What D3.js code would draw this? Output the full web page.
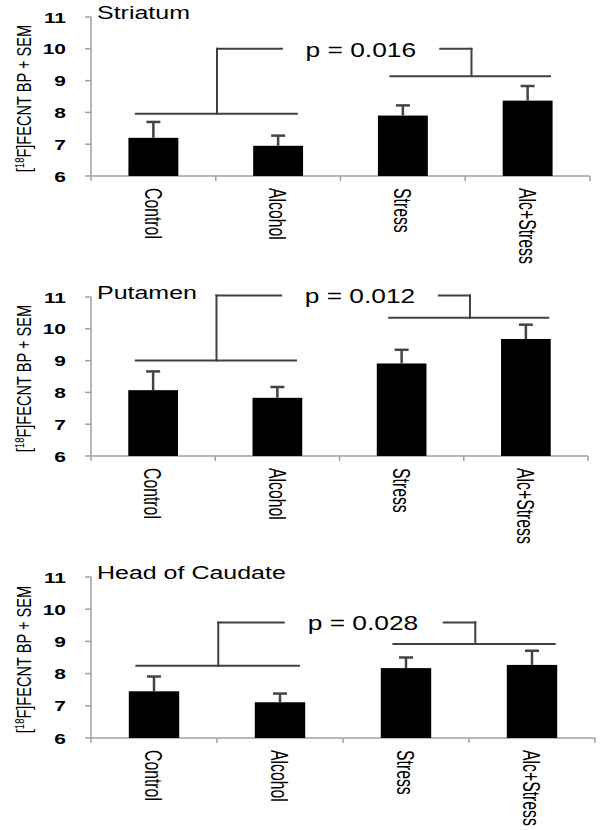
<!DOCTYPE html>
<html>
<head>
<meta charset="utf-8">
<script src="https://cdn.jsdelivr.net/npm/d3@7"></script>
<style>
  body { margin: 0; background: #fff; }
  text { font-family: "Liberation Sans", Arial, sans-serif; fill: #000; }
</style>
</head>
<body>
<div id="chart"></div>
<script>
// Three stacked bar panels

var categories = ["Control", "Alcohol", "Stress", "Alc+Stress"];
var regions = ["Striatum", "Putamen", "Head of Caudate"];
var yTicks = [6, 7, 8, 9, 10, 11];

var meanStriatum = [7.20, 6.95, 7.90, 8.37];
var semStriatum = [0.50, 0.32, 0.32, 0.46];
var meanPutamen = [8.07, 7.83, 8.91, 9.68];
var semPutamen = [0.59, 0.34, 0.43, 0.45];
var meanCaudate = [7.45, 7.11, 8.17, 8.27];
var semCaudate = [0.46, 0.27, 0.33, 0.44];

var pLabels = ["p = 0.016", "p = 0.012", "p = 0.028"];
// bracket heights: [left group, right group, top]
var bracketStriatum = [7.96, 9.14, 10.0];
var bracketPutamen = [9.0, 10.35, 11.05];
var bracketCaudate = [8.24, 8.92, 9.59];

var means = [meanStriatum, meanPutamen, meanCaudate];
var sems = [semStriatum, semPutamen, semCaudate];
var brackets = [bracketStriatum, bracketPutamen, bracketCaudate];

var width = 602, height = 830;
var stretch = 1.35;   // the figure is widened horizontally

var svg = d3.select("#chart").append("svg")
  .attr("width", width)
  .attr("height", height);

// panel frame
var panelTop = [17, 297, 577],
  panelBottom = [176, 456, 738],
  panelRight = [590, 588, 595],
  axisLeft = 91;

regions.forEach(function (region, i) {
  var g = svg.append("g");

  var x = d3.scaleBand()
    .domain(categories)
    .range([axisLeft, panelRight[i]])
    .paddingInner(0.6)
    .paddingOuter(0.3);
  var y = d3.scaleLinear()
    .domain([6, 11])
    .range([panelBottom[i], panelTop[i]]);

  var step = x.step();
  var cx = function (c) { return x(c) + x.bandwidth() / 2; };

  // y axis
  g.append("line")
    .attr("x1", axisLeft).attr("x2", axisLeft)
    .attr("y1", y(11)).attr("y2", y(6))
    .attr("stroke", "#a0a0a0").attr("stroke-width", 1.5);
  g.selectAll(".ytick").data(yTicks).enter().append("line")
    .attr("x1", axisLeft - 6).attr("x2", axisLeft)
    .attr("y1", function (d) { return y(d); })
    .attr("y2", function (d) { return y(d); })
    .attr("stroke", "#a0a0a0").attr("stroke-width", 1.5);
  g.selectAll(".ylab").data(yTicks).enter().append("text")
    .attr("transform", function (d) {
      return "translate(" + (axisLeft - 25) + "," + y(d) + ") scale(" + stretch + ",1)";
    })
    .attr("dy", "0.36em")
    .attr("text-anchor", "end")
    .attr("font-size", 15.5)
    .attr("font-weight", "bold")
    .text(function (d) { return d; });

  // x axis
  g.append("line")
    .attr("x1", axisLeft).attr("x2", panelRight[i])
    .attr("y1", y(6)).attr("y2", y(6))
    .attr("stroke", "#a0a0a0").attr("stroke-width", 1.5);
  var bounds = [axisLeft].concat(categories.map(function (c) {
    return x(c) + x.bandwidth() + step * 0.3;
  }));
  g.selectAll(".xtick").data(bounds).enter().append("line")
    .attr("x1", function (d) { return d; })
    .attr("x2", function (d) { return d; })
    .attr("y1", y(6)).attr("y2", y(6) + 5)
    .attr("stroke", "#a0a0a0").attr("stroke-width", 1.5);
  g.selectAll(".xlab").data(categories).enter().append("text")
    .attr("transform", function (c) {
      return "translate(" + cx(c) + "," + (y(6) + 12) + ") scale(1.55,1) rotate(90)";
    })
    .attr("dy", "0.36em")
    .attr("font-size", 15.8)
    .text(function (c) { return c; });

  // y title
  var yt = g.append("text")
    .attr("transform", "translate(31," + ((y(6) + y(11)) / 2 + 2) + ") scale(" + stretch + ",1) rotate(-90)")
    .attr("text-anchor", "middle")
    .attr("font-size", 14.6);
  yt.append("tspan").text("[");
  yt.append("tspan").attr("font-size", 9.5).attr("dy", -5).text("18");
  yt.append("tspan").attr("dy", 5).text("F]FECNT BP + SEM");

  // panel title
  g.append("text")
    .attr("transform", "translate(97," + (y(11) + 2) + ") scale(" + stretch + ",1)")
    .attr("font-size", 18.5)
    .text(region);

  // bars
  var rows = categories.map(function (c, k) {
    return { cat: c, mean: means[i][k], sem: sems[i][k] };
  });
  g.selectAll(".bar").data(rows).enter().append("rect")
    .attr("x", function (d) { return x(d.cat); })
    .attr("width", x.bandwidth())
    .attr("y", function (d) { return y(d.mean); })
    .attr("height", function (d) { return y(6) - y(d.mean); })
    .attr("fill", "#000");

  // error bars
  g.selectAll(".err").data(rows).enter().append("line")
    .attr("x1", function (d) { return cx(d.cat); })
    .attr("x2", function (d) { return cx(d.cat); })
    .attr("y1", function (d) { return y(d.mean); })
    .attr("y2", function (d) { return y(d.mean + d.sem); })
    .attr("stroke", "#444").attr("stroke-width", 2.5);
  g.selectAll(".cap").data(rows).enter().append("line")
    .attr("x1", function (d) { return cx(d.cat) - 7; })
    .attr("x2", function (d) { return cx(d.cat) + 7; })
    .attr("y1", function (d) { return y(d.mean + d.sem); })
    .attr("y2", function (d) { return y(d.mean + d.sem); })
    .attr("stroke", "#444").attr("stroke-width", 2.5);

  // significance bracket
  var b = brackets[i];
  var c0 = cx(categories[0]), c1 = cx(categories[1]),
    c2 = cx(categories[2]), c3 = cx(categories[3]);
  var lx = c0 + 0.51 * step, rx = c3 - 0.45 * step;
  var segs = [
    [c0 - 0.14 * step, y(b[0]), c1 + 0.15 * step, y(b[0])],
    [lx, y(b[0]), lx, y(b[2])],
    [lx, y(b[2]), c1 + 0.03 * step, y(b[2])],
    [c2 + 0.3 * step, y(b[2]), rx, y(b[2])],
    [rx, y(b[2]), rx, y(b[1])],
    [c2 - 0.1 * step, y(b[1]), c3 + 0.18 * step, y(b[1])]
  ];
  g.selectAll(".brk").data(segs).enter().append("line")
    .attr("x1", function (d) { return d[0]; })
    .attr("y1", function (d) { return d[1]; })
    .attr("x2", function (d) { return d[2]; })
    .attr("y2", function (d) { return d[3]; })
    .attr("stroke", "#404040").attr("stroke-width", 2)
    .attr("stroke-linecap", "square");

  g.append("text")
    .attr("transform", "translate(" + (c1 + 0.22 * step) + "," + (y(b[2]) + 8) + ") scale(" + stretch + ",1)")
    .attr("font-size", 19.5)
    .text(pLabels[i]);
});
</script>
</body>
</html>
